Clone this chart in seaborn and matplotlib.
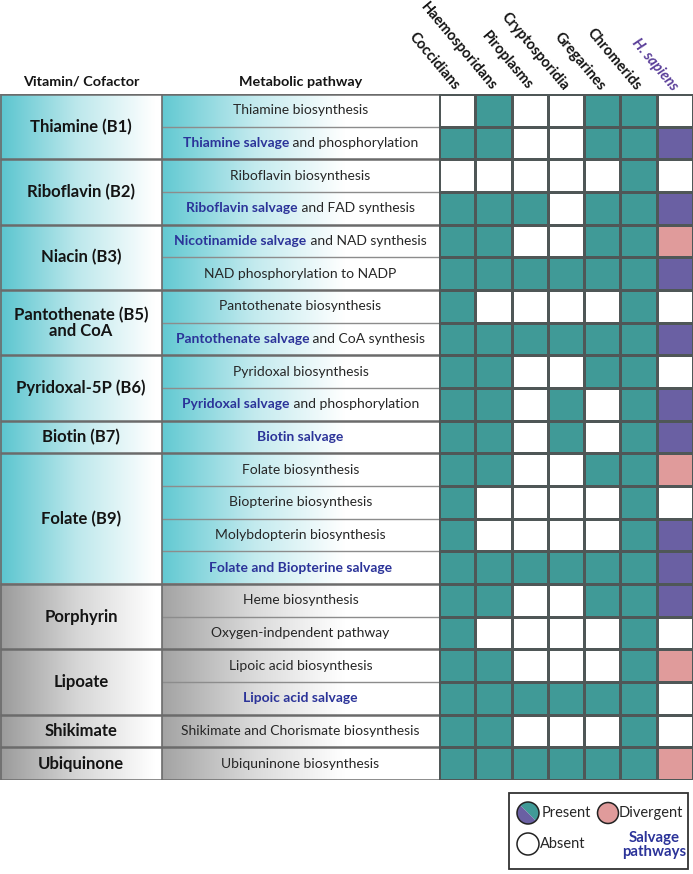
import numpy as np
import pandas as pd
import matplotlib
matplotlib.use("Agg")
import matplotlib.pyplot as plt
import seaborn as sns
from matplotlib.colors import ListedColormap, LinearSegmentedColormap
from matplotlib.offsetbox import TextArea, HPacker, AnnotationBbox
from matplotlib.patches import Rectangle, Circle, Wedge

# ---- data ----
organisms = ["Coccidians", "Haemosporidans", "Piroplasms", "Cryptosporidia",
             "Gregarines", "Chromerids", "H. sapiens"]

vitamins = ["Thiamine (B1)", "Riboflavin (B2)", "Niacin (B3)",
            "Pantothenate (B5)\nand CoA", "Pyridoxal-5P (B6)", "Biotin (B7)",
            "Folate (B9)", "Porphyrin", "Lipoate", "Shikimate", "Ubiquinone"]
rows_per_vitamin = [2, 2, 2, 2, 2, 1, 4, 2, 2, 1, 1]
is_vitamin = [True] * 7 + [False] * 4

# (salvage part in blue bold, rest in plain text)
pathways = [
    ("", "Thiamine biosynthesis"),
    ("Thiamine salvage", " and phosphorylation"),
    ("", "Riboflavin biosynthesis"),
    ("Riboflavin salvage", " and FAD synthesis"),
    ("Nicotinamide salvage", " and NAD synthesis"),
    ("", "NAD phosphorylation to NADP"),
    ("", "Pantothenate biosynthesis"),
    ("Pantothenate salvage", " and CoA synthesis"),
    ("", "Pyridoxal biosynthesis"),
    ("Pyridoxal salvage", " and phosphorylation"),
    ("Biotin salvage", ""),
    ("", "Folate biosynthesis"),
    ("", "Biopterine biosynthesis"),
    ("", "Molybdopterin biosynthesis"),
    ("Folate and Biopterine salvage", ""),
    ("", "Heme biosynthesis"),
    ("", "Oxygen-indpendent pathway"),
    ("", "Lipoic acid biosynthesis"),
    ("Lipoic acid salvage", ""),
    ("", "Shikimate and Chorismate biosynthesis"),
    ("", "Ubiquninone biosynthesis"),
]

# apicomplexan/chromerid columns: 1 present, 0 absent
apicomplexa = [
    [0, 1, 0, 0, 1, 1],
    [1, 1, 0, 0, 1, 1],
    [0, 0, 0, 0, 0, 1],
    [1, 1, 1, 0, 1, 1],
    [1, 1, 0, 0, 1, 1],
    [1, 1, 1, 1, 1, 1],
    [1, 0, 0, 0, 0, 1],
    [1, 1, 1, 1, 1, 1],
    [1, 1, 0, 0, 1, 1],
    [1, 1, 0, 1, 0, 1],
    [1, 1, 0, 1, 0, 1],
    [1, 1, 0, 0, 1, 1],
    [1, 0, 0, 0, 0, 1],
    [1, 0, 0, 0, 0, 1],
    [1, 1, 1, 1, 1, 1],
    [1, 1, 0, 0, 1, 1],
    [1, 0, 0, 0, 0, 1],
    [1, 1, 0, 0, 0, 1],
    [1, 1, 1, 1, 1, 1],
    [1, 1, 0, 0, 0, 1],
    [1, 1, 1, 1, 1, 1],
]
# H. sapiens: 0 absent, 1 present, 2 divergent
human = [0, 1, 0, 1, 2, 1, 0, 1, 0, 1, 1, 2, 0, 1, 1, 1, 0, 2, 0, 0, 2]

# ---- styles ----
TEAL = "#409a97"
PURPLE = "#6a60a3"
PINK = "#e09b9b"
BLUE = "#2b3399"
HS_PURPLE = "#5a3e99"
TXT = "#262626"

sns.set_style("white")
plt.rcParams["font.family"] = ["Lato", "DejaVu Sans"]

W, H = 693, 874
fig = plt.figure(figsize=(W / 100, H / 100), dpi=100)

top_px, bot_px = 94, 780
grid_x0 = 439
bottom = (H - bot_px) / H
height = (bot_px - top_px) / H

# ---- presence grid ----
hum = np.array(human)
codes = np.column_stack([np.array(apicomplexa), hum + (hum > 0)])
df = pd.DataFrame(codes, columns=organisms,
                  index=[p[0] + p[1] for p in pathways])

ax_h = fig.add_axes([grid_x0 / W, bottom, (W - grid_x0) / W, height])
sns.heatmap(df, cmap=ListedColormap(["white", TEAL, PURPLE, PINK]),
            vmin=-0.5, vmax=3.5, cbar=False, linewidths=1.0,
            linecolor="#4f5757", ax=ax_h, xticklabels=True, yticklabels=False)
ax_h.xaxis.tick_top()
ax_h.tick_params(axis="x", length=0, pad=4)
ax_h.set_xticklabels(organisms, rotation=-50, ha="right", va="center",
                     rotation_mode="anchor", fontsize=10.5, fontweight="bold",
                     color="#141414")
for lab in ax_h.get_xticklabels():
    if lab.get_text() == "H. sapiens":
        lab.set_color(HS_PURPLE)
        lab.set_style("italic")
ax_h.set_xlabel("")
ax_h.set_ylabel("")

# ---- left table ----
n_rows = len(pathways)
vit_x1 = 162
ax_t = fig.add_axes([0, bottom, grid_x0 / W, height])
row_edges = np.concatenate([[0], np.cumsum(rows_per_vitamin)])

cyan_vit = LinearSegmentedColormap.from_list("cv", ["#5ac5cf", "#bde8ec", "white"])
cyan_path = LinearSegmentedColormap.from_list("cp", ["#62c9d2", "#c2eaee", "white"])
grey_vit = LinearSegmentedColormap.from_list("gv", ["#9a9a9a", "#d6d6d6", "white"])
grey_path = LinearSegmentedColormap.from_list("gp", ["#a3a3a3", "#dadada", "white"])
ramp = np.linspace(0, 1, 256)[None, :]

for i, name in enumerate(vitamins):
    y0, y1 = row_edges[i], row_edges[i + 1]
    cv = cyan_vit if is_vitamin[i] else grey_vit
    cp = cyan_path if is_vitamin[i] else grey_path
    ax_t.imshow(ramp, cmap=cv, aspect="auto", extent=(0, 155, y1, y0),
                interpolation="bilinear")
    ax_t.imshow(ramp, cmap=cp, aspect="auto", extent=(vit_x1, 345, y1, y0),
                interpolation="bilinear")
    ax_t.text(vit_x1 / 2, (y0 + y1) / 2, name, ha="center", va="center",
              fontsize=12, fontweight="bold", color="#141414", linespacing=1.0)

for r, (blue_part, rest) in enumerate(pathways):
    parts = []
    if blue_part:
        parts.append(TextArea(blue_part, textprops=dict(
            color=BLUE, fontweight="bold", fontsize=10)))
    if rest:
        parts.append(TextArea(rest, textprops=dict(color=TXT, fontsize=10)))
    box = HPacker(children=parts, align="baseline", pad=0, sep=0)
    ab = AnnotationBbox(box, ((vit_x1 + grid_x0) / 2, r + 0.5), xycoords="data",
                        frameon=False, box_alignment=(0.5, 0.5), pad=0)
    ax_t.add_artist(ab)

inner = [r for r in range(1, n_rows) if r not in row_edges]
ax_t.hlines(inner, vit_x1, grid_x0, color="#8c8c8c", lw=1.0)
ax_t.hlines(row_edges, 0, grid_x0, color="#6b6b6b", lw=1.8)
ax_t.vlines([0.6, vit_x1], 0, n_rows, color="#6b6b6b", lw=1.2)

ax_t.text(vit_x1 / 2, -0.38, "Vitamin/ Cofactor", ha="center", va="center",
          fontsize=10.4, fontweight="bold", color="#141414", clip_on=False)
ax_t.text((vit_x1 + grid_x0) / 2, -0.38, "Metabolic pathway", ha="center",
          va="center", fontsize=10.4, fontweight="bold", color="#141414",
          clip_on=False)
ax_t.set_xlim(0, grid_x0)
ax_t.set_ylim(n_rows, 0)
ax_t.axis("off")

# ---- legend ----
ax_l = fig.add_axes([0, 0, 1, 1], zorder=5)
ax_l.set_xlim(0, W)
ax_l.set_ylim(H, 0)
ax_l.axis("off")
ax_l.patch.set_alpha(0)

# y axis is inverted here, so angles run clockwise on screen
ax_l.add_patch(Rectangle((509, 793), 179, 76, fill=False, edgecolor="#333333", lw=1.3))
ax_l.add_patch(Wedge((528, 813), 11, -135, 45, facecolor=TEAL, edgecolor="none"))
ax_l.add_patch(Wedge((528, 813), 11, 45, 225, facecolor=PURPLE, edgecolor="none"))
ax_l.add_patch(Circle((528, 813), 11, fill=False, edgecolor="#222222", lw=1.1))
ax_l.add_patch(Circle((608, 813), 10.5, facecolor=PINK, edgecolor="#222222", lw=1.1))
ax_l.add_patch(Circle((528, 844), 11, facecolor="white", edgecolor="#222222", lw=1.1))
ax_l.text(542, 813, "Present", ha="left", va="center", fontsize=10.5, color=TXT)
ax_l.text(619, 813, "Divergent", ha="left", va="center", fontsize=10.5, color=TXT)
ax_l.text(540, 844, "Absent", ha="left", va="center", fontsize=10.5, color=TXT)
ax_l.text(654, 845, "Salvage\npathways", ha="center", va="center", fontsize=10.8,
          fontweight="bold", color=BLUE, linespacing=1.05)

fig.savefig("out.png", dpi=100, facecolor="white")
